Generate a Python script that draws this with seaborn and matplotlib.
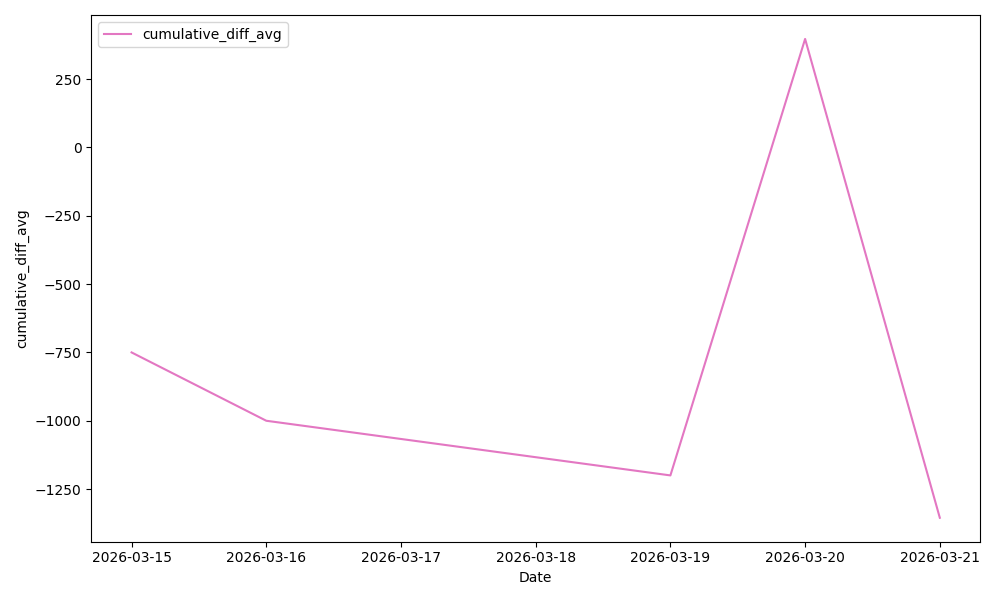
import matplotlib
matplotlib.use("Agg")
import matplotlib.pyplot as plt
import seaborn as sns
import pandas as pd

dates = ["2026-03-15", "2026-03-16", "2026-03-19", "2026-03-20", "2026-03-21"]
cumulative_diff_avg = [-750, -1000, -1200, 397, -1355]

df = pd.DataFrame({"Date": pd.to_datetime(dates), "cumulative_diff_avg": cumulative_diff_avg})

fig, ax = plt.subplots(figsize=(10, 6), dpi=100)
sns.lineplot(data=df, x="Date", y="cumulative_diff_avg", color="#e377c2",
             label="cumulative_diff_avg", ax=ax)
ax.set_xlabel("Date")
ax.set_ylabel("cumulative_diff_avg")
ax.legend(loc="upper left")
fig.tight_layout()
fig.savefig("out.png")
